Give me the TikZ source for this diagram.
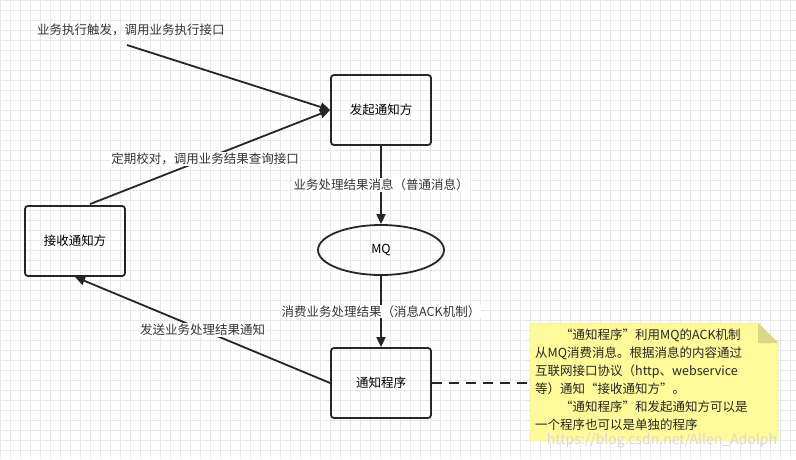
\documentclass[tikz,border=0pt]{standalone}
\usepackage{fontspec}
\setmainfont{Noto Sans CJK SC}
\usetikzlibrary{shapes.geometric,arrows.meta}
\begin{document}
\begin{tikzpicture}[x=1pt,y=-1pt,font=\fontsize{12.5}{15}\selectfont,
  box/.style={draw=black!85,line width=1.8pt,rounded corners=3pt,minimum width=100pt,minimum height=70pt},
  conn/.style={draw=black!85,line width=1.8pt,-{Triangle[length=10pt,width=9pt]}},
  lbl/.style={fill=white,inner sep=1pt,text=black!80}]
\fill[white] (0,0) rectangle (796,459);
\useasboundingbox (0,0) rectangle (796,459);
\foreach \i in {0,10,...,790} \draw[black!9,line width=0.6pt] (\i,0) -- (\i,459);
\foreach \j in {0,10,...,450} \draw[black!9,line width=0.6pt] (0,\j) -- (796,\j);
\node[box] (fa) at (381,110) {发起通知方};
\node[box] (js) at (75,241) {接收通知方};
\node[ellipse,draw=black!85,line width=1.8pt,minimum width=126pt,minimum height=50pt] (mq) at (381,250) {MQ};
\node[box] (tz) at (381,383) {通知程序};
\coordinate (s1) at (127,45);
\node[text=black!80] (l1) at (131,30) {业务执行触发，调用业务执行接口};
\draw[conn] (s1) -- (fa.west);
\draw[conn] (js.north) ++(15,-1) coordinate (s2) -- (fa.west);
\node[lbl] at (205,159) {定期校对，调用业务结果查询接口};
\draw[conn] (fa) -- (mq) node[midway,lbl] {业务处理结果消息（普通消息）};
\draw[conn] (mq) -- (tz) node[midway,lbl] {消费业务处理结果（消息ACK机制）};
\draw[conn] (tz.west) -- (js.south) node[pos=0.5,lbl] {发送业务处理结果通知};
\draw[fill=yellow!40!white,draw=yellow!50!gray!60] (530,323) -- (758,323) -- (778,343) -- (778,441) -- (530,441) -- cycle;
\fill[yellow!55!gray!70] (758,323) -- (778,343) -- (758,343) -- cycle;
\coordinate (nl) at (530,383);
\node[align=left,anchor=north west,text=black!85,font=\fontsize{12.5}{18}\selectfont,inner sep=0pt] (note) at (535,329) {\hspace{2em}“通知程序”利用MQ的ACK机制\\从MQ消费消息。根据消息的内容通过\\互联网接口协议（http、webservice\\等）通知“接收通知方”。\\\hspace{2em}“通知程序”和发起通知方可以是\\一个程序也可以是单独的程序};
\draw[black!85,line width=1.8pt,dash pattern=on 10pt off 7pt] (tz.east) -- (nl);
\node[text=gray!30,font=\fontsize{14}{16}\selectfont] (wm) at (662,441) {https://blog.csdn.net/Allen\_Adolph};
\end{tikzpicture}
\end{document}
